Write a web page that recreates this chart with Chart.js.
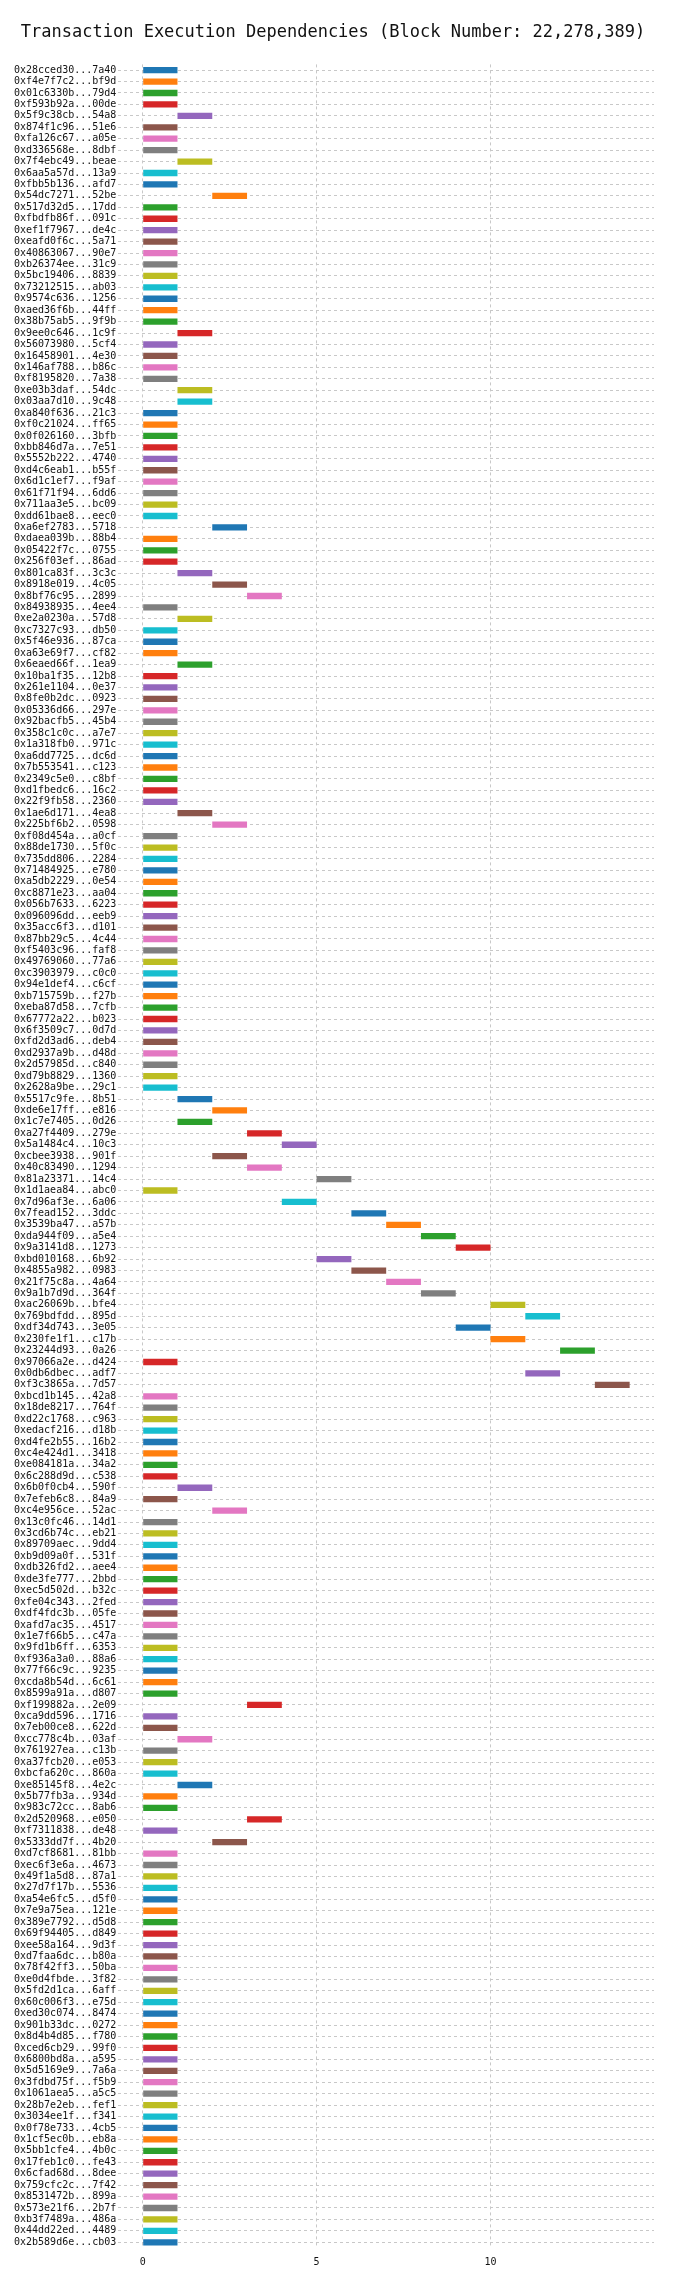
<!DOCTYPE html>
<html>
<head>
<meta charset="utf-8">
<script src="https://cdn.jsdelivr.net/npm/chart.js@4"></script>
<style>
  body { margin: 0; background: #fff; }
  #wrap { width: 700px; height: 2292px; }
</style>
</head>
<body>
<div id="wrap"><canvas id="myChart" width="700" height="2292"></canvas></div>
<script>
const txs = [
  "0x28cced30...7a40","0xf4e7f7c2...bf9d","0x01c6330b...79d4","0xf593b92a...00de","0x5f9c38cb...54a8",
  "0x874f1c96...51e6","0xfa126c67...a05e","0xd336568e...8dbf","0x7f4ebc49...beae","0x6aa5a57d...13a9",
  "0xfbb5b136...afd7","0x54dc7271...52be","0x517d32d5...17dd","0xfbdfb86f...091c","0xef1f7967...de4c",
  "0xeafd0f6c...5a71","0x40863067...90e7","0xb26374ee...31c9","0x5bc19406...8839","0x73212515...ab03",
  "0x9574c636...1256","0xaed36f6b...44ff","0x38b75ab5...9f9b","0x9ee0c646...1c9f","0x56073980...5cf4",
  "0x16458901...4e30","0x146af788...b86c","0xf8195820...7a38","0xe03b3daf...54dc","0x03aa7d10...9c48",
  "0xa840f636...21c3","0xf0c21024...ff65","0x0f026160...3bfb","0xbb846d7a...7e51","0x5552b222...4740",
  "0xd4c6eab1...b55f","0x6d1c1ef7...f9af","0x61f71f94...6dd6","0x711aa3e5...bc09","0xdd61bae8...eec0",
  "0xa6ef2783...5718","0xdaea039b...88b4","0x05422f7c...0755","0x256f03ef...86ad","0x801ca83f...3c3c",
  "0x8918e019...4c05","0x8bf76c95...2899","0x84938935...4ee4","0xe2a0230a...57d8","0xc7327c93...db50",
  "0x5f46e936...87ca","0xa63e69f7...cf82","0x6eaed66f...1ea9","0x10ba1f35...12b8","0x261e1104...0e37",
  "0x8fe0b2dc...0923","0x05336d66...297e","0x92bacfb5...45b4","0x358c1c0c...a7e7","0x1a318fb0...971c",
  "0xa6dd7725...dc6d","0x7b553541...c123","0x2349c5e0...c8bf","0xd1fbedc6...16c2","0x22f9fb58...2360",
  "0x1ae6d171...4ea8","0x225bf6b2...0598","0xf08d454a...a0cf","0x88de1730...5f0c","0x735dd806...2284",
  "0x71484925...e780","0xa5db2229...0e54","0xc8871e23...aa04","0x056b7633...6223","0x096096dd...eeb9",
  "0x35acc6f3...d101","0x87bb29c5...4c44","0xf5403c96...faf8","0x49769060...77a6","0xc3903979...c0c0",
  "0x94e1def4...c6cf","0xb715759b...f27b","0xeba87d58...7cfb","0x67772a22...b023","0x6f3509c7...0d7d",
  "0xfd2d3ad6...deb4","0xd2937a9b...d48d","0x2d57985d...c840","0xd79b8829...1360","0x2628a9be...29c1",
  "0x5517c9fe...8b51","0xde6e17ff...e816","0x1c7e7405...0d26","0xa27f4409...279e","0x5a1484c4...10c3",
  "0xcbee3938...901f","0x40c83490...1294","0x81a23371...14c4","0x1d1aea84...abc0","0x7d96af3e...6a06",
  "0x7fead152...3ddc","0x3539ba47...a57b","0xda944f09...a5e4","0x9a3141d8...1273","0xbd010168...6b92",
  "0x4855a982...0983","0x21f75c8a...4a64","0x9a1b7d9d...364f","0xac26069b...bfe4","0x769bdfdd...895d",
  "0xdf34d743...3e05","0x230fe1f1...c17b","0x23244d93...0a26","0x97066a2e...d424","0x0db6dbec...adf7",
  "0xf3c3865a...7d57","0xbcd1b145...42a8","0x18de8217...764f","0xd22c1768...c963","0xedacf216...d18b",
  "0xd4fe2b55...16b2","0xc4e424d1...3418","0xe084181a...34a2","0x6c288d9d...c538","0x6b0f0cb4...590f",
  "0x7efeb6c8...84a9","0xc4e956ce...52ac","0x13c0fc46...14d1","0x3cd6b74c...eb21","0x89709aec...9dd4",
  "0xb9d09a0f...531f","0xdb326fd2...aee4","0xde3fe777...2bbd","0xec5d502d...b32c","0xfe04c343...2fed",
  "0xdf4fdc3b...05fe","0xafd7ac35...4517","0x1e7f66b5...c47a","0x9fd1b6ff...6353","0xf936a3a0...88a6",
  "0x77f66c9c...9235","0xcda8b54d...6c61","0x8599a91a...d807","0xf199882a...2e09","0xca9dd596...1716",
  "0x7eb00ce8...622d","0xcc778c4b...03af","0x761927ea...c13b","0xa37fcb20...e053","0xbcfa620c...860a",
  "0xe85145f8...4e2c","0x5b77fb3a...934d","0x983c72cc...8ab6","0x2d520968...e050","0xf7311838...de48",
  "0x5333dd7f...4b20","0xd7cf8681...81bb","0xec6f3e6a...4673","0x49f1a5d8...87a1","0x27d7f17b...5536",
  "0xa54e6fc5...d5f0","0x7e9a75ea...121e","0x389e7792...d5d8","0x69f94405...d849","0xee58a164...9d3f",
  "0xd7faa6dc...b80a","0x78f42ff3...50ba","0xe0d4fbde...3f82","0x5fd2d1ca...6aff","0x60c006f3...e75d",
  "0xed30c074...8474","0x901b33dc...0272","0x8d4b4d85...f780","0xced6cb29...99f0","0x6800bd8a...a595",
  "0x5d5169e9...7a6a","0x3fdbd75f...f5b9","0x1061aea5...a5c5","0x28b7e2eb...fef1","0x3034ee1f...f341",
  "0x0f78e733...4cb5","0x1cf5ec0b...eb8a","0x5bb1cfe4...4b0c","0x17feb1c0...fe43","0x6cfad68d...8dee",
  "0x759cfc2c...7f42","0x8531472b...899a","0x573e21f6...2b7f","0xb3f7489a...486a","0x44dd22ed...4489",
  "0x2b589d6e...cb03"
];

// start step of each tx (every tx takes one step)
const starts = [
  0,0,0,0,1,0,0,0,1,0,
  0,2,0,0,0,0,0,0,0,0,
  0,0,0,1,0,0,0,0,1,1,
  0,0,0,0,0,0,0,0,0,0,
  2,0,0,0,1,2,3,0,1,0,
  0,0,1,0,0,0,0,0,0,0,
  0,0,0,0,0,1,2,0,0,0,
  0,0,0,0,0,0,0,0,0,0,
  0,0,0,0,0,0,0,0,0,0,
  1,2,1,3,4,2,3,5,0,4,
  6,7,8,9,5,6,7,8,10,11,
  9,10,12,0,11,13,0,0,0,0,
  0,0,0,0,1,0,2,0,0,0,
  0,0,0,0,0,0,0,0,0,0,
  0,0,0,3,0,0,1,0,0,0,
  1,0,0,3,0,2,0,0,0,0,
  0,0,0,0,0,0,0,0,0,0,
  0,0,0,0,0,0,0,0,0,0,
  0,0,0,0,0,0,0,0,0,0,
  0
];
const duration = 1;
const xTicks = [0, 5, 10];
const palette = ["#1f77b4","#ff7f0e","#2ca02c","#d62728","#9467bd","#8c564b","#e377c2","#7f7f7f","#bcbd22","#17becf"];

const font = "'DejaVu Sans Mono', monospace";

new Chart(document.getElementById("myChart"), {
  type: "bar",
  data: {
    labels: txs,
    datasets: [{
      data: starts.map(s => [s, s + duration]),
      backgroundColor: txs.map((_, i) => palette[i % palette.length]),
      barPercentage: 0.55,
      categoryPercentage: 1
    }]
  },
  options: {
    responsive: false,
    animation: false,
    indexAxis: "y",
    layout: { padding: { left: 12, right: 46, bottom: 16 } },
    plugins: {
      legend: { display: false },
      tooltip: { enabled: false },
      title: {
        display: true,
        text: "Transaction Execution Dependencies (Block Number: 22,278,389)",
        color: "#111",
        font: { family: font, size: 17, weight: "normal" },
        padding: { top: 22, bottom: 22 }
      }
    },
    scales: {
      x: {
        min: -0.7, max: 14.7,
        afterBuildTicks: s => { s.ticks = xTicks.map(v => ({ value: v })); },
        ticks: { color: "#111", font: { family: font, size: 10 }, padding: 8 },
        grid: { color: "#c8c8c8", drawTicks: false },
        border: { display: false, dash: [3, 3] }
      },
      y: {
        ticks: { color: "#111", font: { family: font, size: 10 }, padding: 2, autoSkip: false },
        grid: { color: "#c8c8c8", drawTicks: false, offset: false },
        border: { display: false, dash: [3, 3] }
      }
    }
  }
});
</script>
</body>
</html>
